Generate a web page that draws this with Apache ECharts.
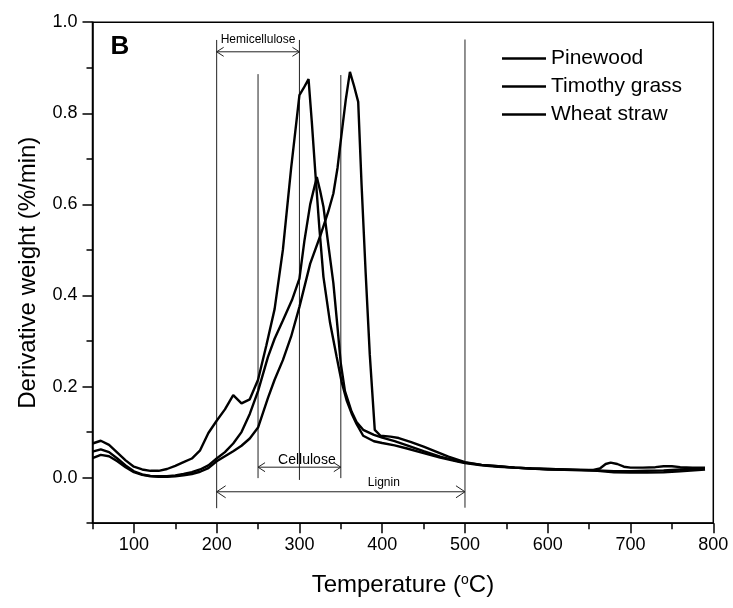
<!DOCTYPE html>
<html>
<head>
<meta charset="utf-8">
<script src="https://cdn.jsdelivr.net/npm/echarts@6/dist/echarts.min.js"></script>
<style>html,body{margin:0;padding:0;background:#fff}#c{width:733px;height:608px}</style>
</head>
<body>
<div id="c"></div>
<script>
// ---- data ----
const seriesNames = ['Pinewood', 'Timothy grass', 'Wheat straw'];

const pinewoodT = [50,60,70,80,90,100,110,120,130,140,150,160,170,180,190,200,210,220,230,240,250,262,270,280,290,300,313,325,335,341,346,351,356,361,366,371,375,380,385,391,398,410,420,435,450,465,480,500,520,540,560,580,600,620,640,660,680,700,720,740,760,790];
const pinewoodV = [0.043,0.050,0.047,0.036,0.023,0.012,0.006,0.003,0.002,0.002,0.003,0.005,0.008,0.013,0.021,0.036,0.047,0.058,0.070,0.086,0.110,0.175,0.215,0.258,0.310,0.375,0.470,0.530,0.585,0.624,0.680,0.756,0.830,0.891,0.860,0.825,0.646,0.450,0.270,0.105,0.092,0.090,0.087,0.078,0.068,0.057,0.046,0.034,0.028,0.025,0.022,0.020,0.018,0.017,0.016,0.015,0.012,0.011,0.011,0.012,0.014,0.018];

const timothyT = [50,60,70,80,90,100,110,120,130,140,150,160,170,180,190,200,210,220,230,240,250,260,270,280,290,300,305,311,315,319,324,329,337,345,351,357,363,369,377,390,400,415,430,450,470,490,500,520,540,560,580,600,620,640,655,663,670,676,684,692,700,715,730,740,750,760,775,790];
const timothyV = [0.075,0.081,0.072,0.055,0.038,0.024,0.018,0.015,0.015,0.019,0.026,0.034,0.042,0.060,0.098,0.125,0.150,0.181,0.163,0.172,0.215,0.290,0.370,0.500,0.680,0.840,0.855,0.875,0.780,0.675,0.550,0.441,0.340,0.265,0.210,0.170,0.141,0.118,0.092,0.080,0.076,0.071,0.064,0.054,0.044,0.036,0.032,0.027,0.024,0.022,0.020,0.019,0.018,0.017,0.017,0.020,0.030,0.033,0.030,0.024,0.022,0.022,0.023,0.025,0.025,0.023,0.022,0.022];

const wheatT = [50,60,70,80,90,100,110,120,130,140,150,160,170,180,190,200,210,220,230,240,250,262,270,280,291,300,306,313,321,325,329,335,341,346,350,355,363,369,377,390,400,415,430,450,470,490,500,520,540,560,580,600,620,640,660,680,700,720,740,760,790];
const wheatV = [0.057,0.062,0.056,0.042,0.027,0.014,0.007,0.004,0.003,0.003,0.005,0.008,0.012,0.018,0.027,0.042,0.056,0.075,0.100,0.140,0.190,0.265,0.305,0.345,0.390,0.437,0.520,0.600,0.660,0.630,0.595,0.510,0.427,0.330,0.250,0.190,0.145,0.122,0.105,0.094,0.088,0.080,0.071,0.058,0.046,0.037,0.033,0.028,0.025,0.022,0.020,0.019,0.018,0.017,0.016,0.014,0.014,0.015,0.016,0.018,0.021];

const xTickLabels = [100,200,300,400,500,600,700,800];
const yTickLabels = [0.0,0.2,0.4,0.6,0.8,1.0];

// region annotations (temperature ranges)
const rangeNames = ['Hemicellulose','Cellulose','Lignin'];
const rangeStart = [200,250,200];
const rangeEnd = [300,350,500];
const rangeArrowV = [0.935,0.023,-0.031];
const rangeLabelT = [250,309,402];
const rangeLabelV = [0.962,0.038,-0.011];

const boundaryT = [200,250,300,350,500];
const boundaryLow = [-0.067,-0.001,-0.005,-0.001,-0.066];
const boundaryHigh = [0.961,0.886,0.961,0.884,0.962];

const panelLabel = 'B';
const panelLabelT = 83;
const panelLabelV = 0.945;

// ---- chart ----
const FONT = 'Liberation Sans, Arial, sans-serif';
const pairs = (t, v) => t.map((x, i) => [x, v[i]]);
const chart = echarts.init(document.getElementById('c'), null, {renderer: 'canvas'});

const lineSeries = [
  [pinewoodT, pinewoodV],
  [timothyT, timothyV],
  [wheatT, wheatV]
].map((d, i) => ({
  name: seriesNames[i],
  type: 'line',
  data: pairs(d[0], d[1]),
  symbol: 'none',
  showSymbol: false,
  smooth: false,
  lineStyle: {color: '#000', width: 2.4},
  itemStyle: {color: '#000'},
  z: 5,
  silent: true
}));

const labelFonts = ['12px ' + FONT, '14px ' + FONT, '12px ' + FONT];

const option = {
  animation: false,
  backgroundColor: '#fff',
  grid: {left: 92.5, right: 19.7, top: 22.2, bottom: 84.8, show: true, borderColor: '#000', borderWidth: 1.5, backgroundColor: 'transparent'},
  legend: {
    data: seriesNames,
    orient: 'vertical',
    left: 497,
    top: 43,
    icon: 'rect',
    itemWidth: 44,
    itemHeight: 2.4,
    itemGap: 7,
    itemStyle: {color: '#000', borderWidth: 0},
    textStyle: {fontSize: 21, color: '#000', fontFamily: FONT},
    selectedMode: false
  },
  xAxis: [
    {
      type: 'value', min: 50, max: 800, interval: 50,
      name: 'Temperature ({s|o}C)',
      nameLocation: 'middle', nameGap: 50,
      nameTextStyle: {fontSize: 24, color: '#000', fontFamily: FONT,
        rich: {s: {fontSize: 14, color: '#000', fontFamily: FONT, verticalAlign: 'top', lineHeight: 14}}},
      axisLine: {show: true, onZero: false, lineStyle: {color: '#000', width: 1.5}},
      axisTick: {show: true, customValues: xTickLabels, length: 10, lineStyle: {color: '#000', width: 1.5}},
      axisLabel: {customValues: xTickLabels, fontSize: 18, color: '#000', fontFamily: FONT, margin: 13},
      splitLine: {show: false}
    },
    {
      type: 'value', min: 50, max: 800, interval: 50, position: 'bottom',
      axisLine: {show: false, onZero: false},
      axisTick: {show: true, length: 6, lineStyle: {color: '#000', width: 1.5}},
      axisLabel: {show: false},
      splitLine: {show: false}
    }
  ],
  yAxis: [
    {
      type: 'value', min: -0.1, max: 1.0, interval: 0.1,
      name: 'Derivative weight (%/min)',
      nameLocation: 'middle', nameGap: 52,
      nameTextStyle: {fontSize: 24, color: '#000', fontFamily: FONT},
      axisLine: {show: true, onZero: false, lineStyle: {color: '#000', width: 1.5}},
      axisTick: {show: true, customValues: yTickLabels, length: 10, lineStyle: {color: '#000', width: 1.5}},
      axisLabel: {customValues: yTickLabels, fontSize: 18, color: '#000', fontFamily: FONT, margin: 15,
        formatter: v => Number(v).toFixed(1)},
      splitLine: {show: false}
    },
    {
      type: 'value', min: -0.1, max: 1.0, interval: 0.1, position: 'left',
      axisLine: {show: false, onZero: false},
      axisTick: {show: true, length: 6, lineStyle: {color: '#000', width: 1.5}},
      axisLabel: {show: false},
      splitLine: {show: false}
    }
  ],
  series: lineSeries.concat([
    {
      type: 'custom', silent: true, clip: false, z: 3,
      data: boundaryT.map((t, i) => [t, boundaryLow[i], boundaryHigh[i]]),
      encode: {x: 0, y: [1, 2]},
      renderItem: (params, api) => {
        const a = api.coord([api.value(0), api.value(1)]);
        const b = api.coord([api.value(0), api.value(2)]);
        return {type: 'line', shape: {x1: a[0], y1: a[1], x2: b[0], y2: b[1]}, style: {stroke: '#222', lineWidth: 1}};
      }
    },
    {
      type: 'custom', silent: true, clip: false, z: 3,
      data: rangeStart.map((s, i) => [s, rangeEnd[i], rangeArrowV[i]]),
      encode: {x: [0, 1], y: 2},
      renderItem: (params, api) => {
        const a = api.coord([api.value(0), api.value(2)]);
        const b = api.coord([api.value(1), api.value(2)]);
        const big = params.dataIndex === 2;
        const h = big ? 9 : 7, w = big ? 6 : 4.5;
        const st = {stroke: '#222', lineWidth: 1, fill: null};
        return {type: 'group', children: [
          {type: 'line', shape: {x1: a[0], y1: a[1], x2: b[0], y2: b[1]}, style: st},
          {type: 'polyline', shape: {points: [[a[0] + h, a[1] - w], [a[0], a[1]], [a[0] + h, a[1] + w]]}, style: st},
          {type: 'polyline', shape: {points: [[b[0] - h, b[1] - w], [b[0], b[1]], [b[0] - h, b[1] + w]]}, style: st}
        ]};
      }
    },
    {
      type: 'custom', silent: true, clip: false, z: 4,
      data: rangeLabelT.map((t, i) => [t, rangeLabelV[i]]),
      encode: {x: 0, y: 1},
      renderItem: (params, api) => {
        const p = api.coord([api.value(0), api.value(1)]);
        return {type: 'text', x: p[0], y: p[1], style: {text: rangeNames[params.dataIndex], fill: '#000', font: labelFonts[params.dataIndex], align: 'center', verticalAlign: 'middle'}};
      }
    },
    {
      type: 'custom', silent: true, clip: false, z: 4,
      data: [[panelLabelT, panelLabelV]],
      encode: {x: 0, y: 1},
      renderItem: (params, api) => {
        const p = api.coord([api.value(0), api.value(1)]);
        return {type: 'text', x: p[0], y: p[1], style: {text: panelLabel, fill: '#000', font: 'bold 26px ' + FONT, align: 'center', verticalAlign: 'middle'}};
      }
    }
  ])
};
chart.setOption(option);
</script>
</body>
</html>
